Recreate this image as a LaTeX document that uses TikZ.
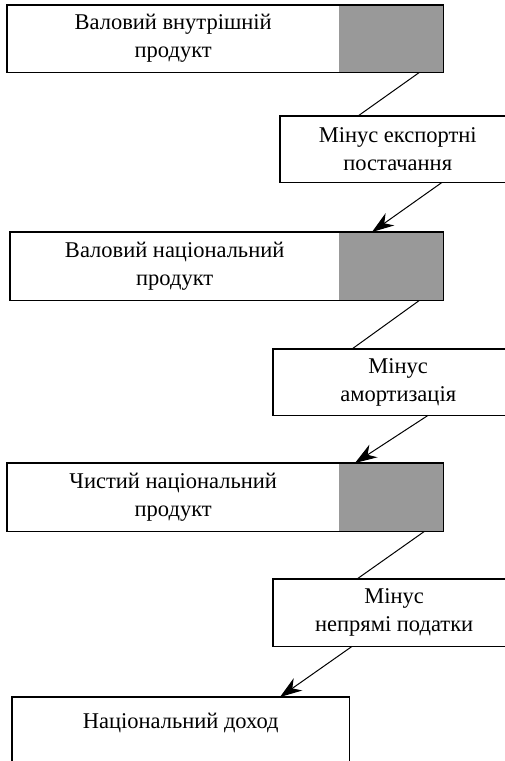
\documentclass[tikz,border=0pt]{standalone}
\usepackage{fontspec}
\setmainfont{Liberation Serif}
\usetikzlibrary{arrows.meta,calc}
\begin{document}
\begin{tikzpicture}[x=1pt,y=-1pt,
  txt/.style={inner sep=0pt,align=center,font=\fontsize{22.5}{28}\selectfont},
  whitepart/.style={txt,anchor=north west,minimum height=67pt},
  graypart/.style={anchor=north west,inner sep=0pt,fill=black!40,minimum height=67pt},
  frame/.style={line width=1.2pt},
  conn/.style={line width=1pt},
  arr/.style={conn,-{Stealth[length=22pt,width=15pt,inset=7pt]}}]
\clip (0,0) rectangle (505,761);
\fill[color=white] (0,0) rectangle (505,761);
% Box 1
\node[whitepart,minimum width=332pt] (w1) at (7,5) {Валовий внутрішній\\продукт};
\node[graypart,minimum width=104pt] (g1) at (339,5) {};
\draw[frame] (w1.north west) rectangle (g1.south east);
% Box 2
\node[whitepart,minimum width=235pt,minimum height=66pt] (m2) at (280,116) {Мінус експортні\\постачання};
\draw[frame] (m2.north west) rectangle (m2.south east);
% Box 3
\node[whitepart,minimum width=329pt,minimum height=68pt] (w3) at (10,232) {Валовий національний\\продукт};
\node[graypart,minimum width=104pt,minimum height=68pt] (g3) at (339,232) {};
\draw[frame] (w3.north west) rectangle (g3.south east);
% Box 4
\node[whitepart,minimum width=250pt,minimum height=66pt] (m4) at (273,349) {Мінус\\амортизація};
\draw[frame] (m4.north west) rectangle (m4.south east);
% Box 5
\node[whitepart,minimum width=332pt,minimum height=68pt] (w5) at (7,463) {Чистий національний\\продукт};
\node[graypart,minimum width=104pt,minimum height=68pt] (g5) at (339,463) {};
\draw[frame] (w5.north west) rectangle (g5.south east);
% Box 6
\node[whitepart,minimum width=242pt,minimum height=67pt] (m6) at (273,579) {Мінус\\непрямі податки};
\draw[frame] (m6.north west) rectangle (m6.south east);
% Box 7
\node[whitepart,minimum width=337pt,minimum height=52pt] (w7) at (12,697) {Національний доход};
\coordinate (b7) at ($(w7.south east)+(0,40)$);
\draw[frame] (w7.north west) rectangle (b7);
% Connectors
\draw[conn] ([xshift=-24pt]g1.south east) -- ([xshift=78pt]m2.north west);
\draw[arr] ([xshift=162pt]m2.south west) -- ([xshift=33pt]g3.north west);
\draw[conn] ([xshift=-24pt]g3.south east) -- ([xshift=79pt]m4.north west);
\draw[arr] ([xshift=155pt]m4.south west) -- ([xshift=16pt]g5.north west);
\draw[conn] ([xshift=-19pt]g5.south east) -- ([xshift=84pt]m6.north west);
\draw[arr] ([xshift=79pt]m6.south west) -- ([xshift=268pt]w7.north west);
\end{tikzpicture}
\end{document}
